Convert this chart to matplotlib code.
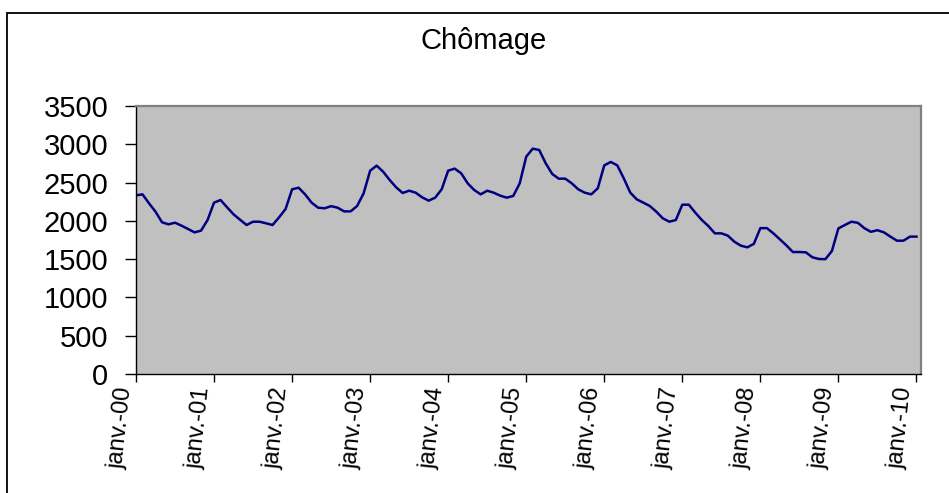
import matplotlib
matplotlib.use("Agg")
import matplotlib.pyplot as plt
from matplotlib.patches import Rectangle
import numpy as np

title = "Chômage"

values_2000 = [2333, 2346, 2229, 2120, 1981, 1955, 1976, 1937, 1894, 1850, 1872, 2011]
values_2001 = [2238, 2272, 2177, 2085, 2015, 1946, 1989, 1989, 1968, 1946, 2046, 2155]
values_2002 = [2412, 2433, 2346, 2238, 2172, 2164, 2192, 2172, 2124, 2124, 2194, 2360]
values_2003 = [2655, 2721, 2642, 2534, 2438, 2364, 2394, 2368, 2307, 2264, 2303, 2412]
values_2004 = [2656, 2682, 2621, 2490, 2403, 2346, 2394, 2368, 2329, 2303, 2325, 2490]
values_2005 = [2838, 2943, 2925, 2751, 2612, 2551, 2551, 2490, 2412, 2368, 2346, 2425]
values_2006 = [2725, 2769, 2725, 2555, 2368, 2281, 2238, 2194, 2120, 2033, 1989, 2011]
values_2007 = [2211, 2211, 2107, 2011, 1933, 1837, 1837, 1807, 1728, 1676, 1654, 1700]
values_2008 = [1905, 1905, 1837, 1759, 1680, 1593, 1593, 1589, 1524, 1502, 1500, 1606]
values_2009 = [1902, 1946, 1989, 1974, 1904, 1857, 1878, 1850, 1794, 1741, 1741, 1794]
values_2010 = [1794]

values = (values_2000 + values_2001 + values_2002 + values_2003 + values_2004 +
          values_2005 + values_2006 + values_2007 + values_2008 + values_2009 +
          values_2010)

tick_labels = ["janv.-00", "janv.-01", "janv.-02", "janv.-03", "janv.-04",
               "janv.-05", "janv.-06", "janv.-07", "janv.-08", "janv.-09",
               "janv.-10"]
y_ticks = [0, 500, 1000, 1500, 2000, 2500, 3000, 3500]

plt.rcParams["font.family"] = ["Liberation Sans", "DejaVu Sans"]

W, H = 949, 493
fig = plt.figure(figsize=(W / 100, H / 100), dpi=100)
fig.patch.set_facecolor("white")

# chart-area frame (cropped on the right and bottom in the reference)
fig.patches.append(Rectangle((6.5 / W, -0.2), 1.5, 1.2 - 12.5 / H,
                             transform=fig.transFigure, fill=False,
                             ec="black", lw=1.3, clip_on=False))

ax = fig.add_axes([136 / W, 1 - 374 / H, (921 - 136) / W, (374 - 106) / H])
ax.set_facecolor("#C0C0C0")

months = np.arange(len(values))
ax.plot(months, values, color="#000080", lw=1.8, solid_joinstyle="round")

ax.set_xlim(0, 120.7)
ax.set_ylim(0, 3500)
ax.set_yticks(y_ticks)
ax.set_yticklabels([str(v) for v in y_ticks], fontsize=21)
ax.set_xticks(np.arange(0, len(values), 12))
ax.set_xticklabels(tick_labels, fontsize=17, rotation=84, ha="right",
                   va="bottom", rotation_mode="anchor")

ax.tick_params(axis="y", direction="out", length=8, width=1, pad=12, colors="black")
ax.tick_params(axis="x", direction="out", length=6, width=1, pad=4, colors="black")

for side in ["left", "bottom"]:
    ax.spines[side].set_color("black")
    ax.spines[side].set_linewidth(1.0)
for side in ["top", "right"]:
    ax.spines[side].set_color("#808080")
    ax.spines[side].set_linewidth(1.6)

fig.text(484 / W, 1 - 41 / H, title, ha="center", va="center", fontsize=21)

fig.savefig("out.png", dpi=100)
